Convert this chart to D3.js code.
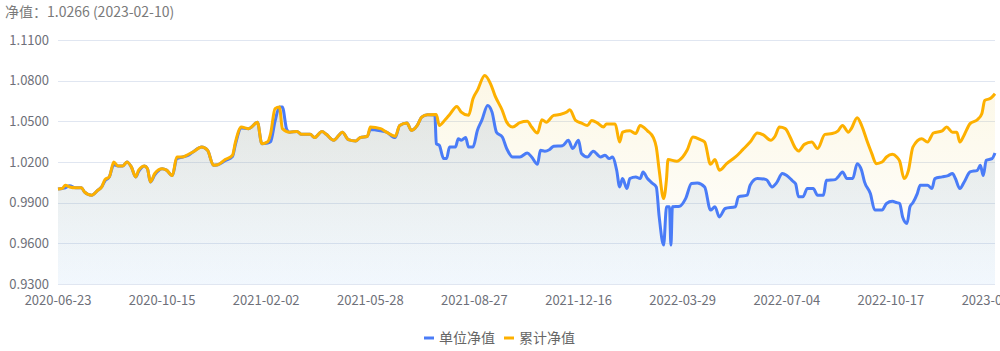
<!DOCTYPE html>
<html>
<head>
<meta charset="utf-8">
<script src="https://cdn.jsdelivr.net/npm/d3@7"></script>
<style>
  body { margin: 0; background: #fff; }
  svg text { font-family: "Noto Sans CJK SC", "Open Sans", sans-serif; }
</style>
</head>
<body>
<div id="visual"></div>
<script>
// tick labels on the category axis (every 71 trading days)
const tickLabels = ["2020-06-23", "2020-10-15", "2021-02-02", "2021-05-28", "2021-08-27",
  "2021-12-16", "2022-03-29", "2022-07-04", "2022-10-17", "2023-02-10"];
const totalDays = 639;
const yTicks = [0.93, 0.96, 0.99, 1.02, 1.05, 1.08, 1.11];

// 累计净值 (trading-day index, value)
const accDays = [0, 3, 5, 8, 12, 16, 18, 23, 27, 30, 32, 35, 38, 41, 44, 47, 50, 53, 55, 59, 61, 63, 66, 71, 74, 78,
  81, 85, 89, 92, 98, 102, 106, 109, 114, 119, 121, 125, 130, 132, 136, 139, 143, 145, 148, 151, 153, 158, 163, 166,
  172, 175, 180, 183, 188, 194, 198, 203, 206, 211, 213, 220, 224, 230, 233, 238, 241, 245, 248, 252, 258, 260, 264,
  267, 272, 275, 280, 283, 286, 291, 295, 298, 303, 306, 310, 315, 320, 323, 327, 330, 333, 338, 342, 347, 349, 353,
  357, 361, 364, 368, 372, 374, 380, 383, 385, 390, 394, 397, 402, 406, 408, 410, 413, 415, 416, 422, 426, 429, 433,
  438, 441, 445, 448, 451, 456, 462, 467, 472, 477, 481, 486, 489, 492, 496, 499, 503, 505, 509, 514, 518, 523, 528,
  532, 535, 539, 541, 545, 548, 552, 555, 558, 562, 565, 569, 572, 574, 577, 580, 583, 589, 593, 597, 603, 606, 610,
  613, 615, 618, 622, 627, 630, 632, 636, 639];
const accNav = [1.0000, 1.0005, 1.0029, 1.0016, 1.0010, 1.0010, 0.9980, 0.9955, 0.9990, 1.0020, 1.0070, 1.0090, 1.0200,
  1.0170, 1.0170, 1.0200, 1.0164, 1.0090, 1.0140, 1.0170, 1.0150, 1.0053, 1.0115, 1.0150, 1.0140, 1.0100,
  1.0237, 1.0237, 1.0257, 1.0274, 1.0310, 1.0286, 1.0176, 1.0180, 1.0218, 1.0250, 1.0347, 1.0458, 1.0446, 1.0458,
  1.0494, 1.0335, 1.0350, 1.0410, 1.0593, 1.0605, 1.0446, 1.0420, 1.0425, 1.0404,
  1.0404, 1.0380, 1.0425, 1.0404, 1.0360, 1.0420, 1.0365, 1.0355, 1.0380, 1.0390, 1.0458, 1.0446, 1.0420, 1.0390,
  1.0470, 1.0487, 1.0433, 1.0470, 1.0531, 1.0549, 1.0550, 1.0470, 1.0512,
  1.0549, 1.0610, 1.0568, 1.0544, 1.0667, 1.0728, 1.0838, 1.0777, 1.0690, 1.0580, 1.0494, 1.0458, 1.0490, 1.0500,
  1.0458, 1.0414, 1.0512, 1.0494, 1.0544, 1.0550, 1.0568, 1.0586, 1.0507,
  1.0487, 1.0470, 1.0507, 1.0487, 1.0458, 1.0480, 1.0480, 1.0347, 1.0420, 1.0430, 1.0410, 1.0470, 1.0430, 1.0380,
  1.0310, 1.0139, 0.9930, 1.0078, 1.0218, 1.0206, 1.0237, 1.0286, 1.0384,
  1.0365, 1.0347, 1.0183, 1.0218, 1.0139, 1.0188, 1.0237, 1.0291, 1.0347, 1.0414, 1.0400, 1.0360, 1.0390, 1.0458,
  1.0446, 1.0390, 1.0300, 1.0281, 1.0330, 1.0347, 1.0300, 1.0404, 1.0410,
  1.0430, 1.0470, 1.0420, 1.0446, 1.0527, 1.0470, 1.0347, 1.0262, 1.0188, 1.0200, 1.0237, 1.0257, 1.0237, 1.0206,
  1.0078, 1.0139, 1.0310, 1.0372, 1.0347, 1.0414, 1.0430, 1.0458, 1.0420,
  1.0420, 1.0347, 1.0400, 1.0483, 1.0512, 1.0556, 1.0654, 1.0670, 1.0704];

// 单位净值 (trading-day index, value)
const unitDays = [0, 3, 5, 8, 12, 16, 18, 23, 27, 30, 32, 35, 38, 41, 44, 47, 50, 53, 55, 59, 61, 63, 66, 71, 74, 78,
  81, 85, 89, 92, 98, 102, 106, 109, 114, 119, 121, 125, 130, 132, 136, 139, 143, 145, 148, 151, 153, 156, 158, 163,
  166, 172, 175, 180, 183, 188, 194, 198, 203, 206, 211, 213, 220, 224, 230, 233, 238, 241, 245, 248, 252, 257, 258,
  260, 263, 265, 267, 271, 273, 275, 278, 280, 283, 286, 289, 293, 296, 299, 303, 306, 310, 315, 320, 323, 327, 329,
  332, 335, 338, 344, 348, 351, 355, 357, 361, 365, 370, 373, 376, 378, 381, 383, 385, 388, 390, 394, 397, 399, 402,
  405, 408, 410, 413, 415, 417, 418, 419, 424, 428, 432, 436, 441, 445, 448, 451, 455, 462, 464, 470, 472, 477, 483,
  487, 490, 494, 497, 501, 503, 505, 508, 511, 515, 518, 522, 524, 530, 532, 535, 538, 542, 545, 548, 550, 554, 557,
  562, 565, 569, 572, 574, 576, 579, 581, 583, 586, 588, 593, 596, 598, 603, 607, 610, 612, 615, 618, 622, 627, 629,
  631, 633, 637, 639];
const unitNav = [1.0000, 1.0005, 1.0010, 1.0025, 1.0010, 1.0010, 0.9980, 0.9955, 0.9990, 1.0020, 1.0060, 1.0090, 1.0180,
  1.0170, 1.0170, 1.0200, 1.0164, 1.0090, 1.0130, 1.0170, 1.0150, 1.0053, 1.0105, 1.0150, 1.0140, 1.0100,
  1.0225, 1.0237, 1.0250, 1.0274, 1.0310, 1.0286, 1.0176, 1.0180, 1.0210, 1.0240, 1.0330, 1.0450, 1.0446, 1.0458,
  1.0494, 1.0335, 1.0340, 1.0350, 1.0500, 1.0605, 1.0605, 1.0440, 1.0420, 1.0425,
  1.0404, 1.0404, 1.0380, 1.0425, 1.0404, 1.0360, 1.0420, 1.0365, 1.0355, 1.0380, 1.0390, 1.0440, 1.0430, 1.0420,
  1.0380, 1.0470, 1.0487, 1.0433, 1.0470, 1.0531, 1.0549, 1.0546, 1.0335,
  1.0323, 1.0225, 1.0225, 1.0310, 1.0310, 1.0372, 1.0360, 1.0380, 1.0310, 1.0310, 1.0433, 1.0507, 1.0617, 1.0568,
  1.0420, 1.0384, 1.0299, 1.0237, 1.0237, 1.0266, 1.0237, 1.0183, 1.0286,
  1.0280, 1.0290, 1.0316, 1.0320, 1.0360, 1.0300, 1.0360, 1.0262, 1.0237, 1.0280, 1.0237, 1.0250, 1.0225, 1.0237,
  1.0139, 1.0016, 1.0078, 1.0004, 1.0078, 1.0090, 1.0078, 1.0127, 1.0078,
  1.0046, 1.0016, 0.9795, 0.9587, 0.9870, 0.9870, 0.9587, 0.9870, 0.9874, 0.9930, 1.0041, 1.0046, 1.0016, 0.9845,
  0.9870, 0.9795, 0.9857, 0.9870, 0.9943, 0.9955, 1.0029, 1.0078, 1.0070,
  1.0016, 1.0046, 1.0115, 1.0100, 1.0060, 1.0040, 0.9943, 0.9943, 1.0004, 1.0004, 0.9955, 0.9955, 1.0065, 1.0070,
  1.0090, 1.0127, 1.0078, 1.0078, 1.0188, 1.0139, 1.0053, 0.9967, 0.9845,
  0.9845, 0.9894, 0.9910, 0.9900, 0.9894, 0.9795, 0.9747, 0.9870, 0.9900, 0.9967, 1.0029, 1.0029, 1.0004, 1.0078,
  1.0090, 1.0100, 1.0115, 1.0078, 1.0004, 1.0053, 1.0127, 1.0139, 1.0176,
  1.0100, 1.0213, 1.0225, 1.0266];

const latestValue = unitNav[unitNav.length - 1];
const latestDate = tickLabels[tickLabels.length - 1];

const width = 1000, height = 351;
const margin = { top: 40, right: 5, bottom: 67, left: 58 };

const svg = d3.select("#visual")
  .append("svg")
  .attr("width", width)
  .attr("height", height);

const x = d3.scaleLinear()
  .domain([0, totalDays])
  .range([margin.left, width - margin.right]);

const y = d3.scaleLinear()
  .domain([0.93, 1.11])
  .range([height - margin.bottom, margin.top]);

// gradients for the two areas
const defs = svg.append("defs");
const gradAcc = defs.append("linearGradient")
  .attr("id", "gradAcc").attr("x1", 0).attr("y1", 0).attr("x2", 0).attr("y2", 1);
gradAcc.append("stop").attr("offset", "0%").attr("stop-color", "rgb(235,205,90)").attr("stop-opacity", 0.15);
gradAcc.append("stop").attr("offset", "100%").attr("stop-color", "rgb(235,205,90)").attr("stop-opacity", 0.0);

const gradUnit = defs.append("linearGradient")
  .attr("id", "gradUnit").attr("x1", 0).attr("y1", 0).attr("x2", 0).attr("y2", 1);
gradUnit.append("stop").attr("offset", "0%").attr("stop-color", "rgb(95,130,185)").attr("stop-opacity", 0.16);
gradUnit.append("stop").attr("offset", "100%").attr("stop-color", "rgb(120,180,240)").attr("stop-opacity", 0.1);

// grid lines + y labels
svg.append("g")
  .selectAll("line")
  .data(yTicks)
  .join("line")
  .attr("x1", margin.left)
  .attr("x2", width - margin.right)
  .attr("y1", d => Math.round(y(d)) + 0.5)
  .attr("y2", d => Math.round(y(d)) + 0.5)
  .attr("stroke", "#e0e6f1")
  .attr("stroke-width", 1);

svg.append("g")
  .selectAll("text")
  .data(yTicks)
  .join("text")
  .attr("x", margin.left - 9)
  .attr("y", d => y(d))
  .attr("dy", "0.35em")
  .attr("text-anchor", "end")
  .attr("fill", "#6e7079")
  .style("font-size", "13px")
  .text(d => d.toFixed(4));

// x labels
const tickStep = totalDays / (tickLabels.length - 1);
svg.append("g")
  .selectAll("text")
  .data(tickLabels)
  .join("text")
  .attr("x", (d, i) => x(i * tickStep))
  .attr("y", height - margin.bottom + 16)
  .attr("dy", "0.35em")
  .attr("text-anchor", "middle")
  .attr("fill", "#6e7079")
  .style("font-size", "13px")
  .text(d => d);

const accData = accDays.map((d, i) => ({ day: d, value: accNav[i] }));
const unitData = unitDays.map((d, i) => ({ day: d, value: unitNav[i] }));

const area = d3.area()
  .x(d => x(d.day))
  .y0(y(0.93))
  .y1(d => y(d.value))
  .curve(d3.curveMonotoneX);

const line = d3.line()
  .x(d => x(d.day))
  .y(d => y(d.value))
  .curve(d3.curveMonotoneX);

svg.append("path")
  .datum(accData)
  .attr("fill", "url(#gradAcc)")
  .attr("d", area);

svg.append("path")
  .datum(unitData)
  .attr("fill", "url(#gradUnit)")
  .attr("d", area);

svg.append("path")
  .datum(unitData)
  .attr("fill", "none")
  .attr("stroke", "#4a7cf7")
  .attr("stroke-width", 3)
  .attr("stroke-linejoin", "round")
  .attr("d", line);

svg.append("path")
  .datum(accData)
  .attr("fill", "none")
  .attr("stroke", "#fdb000")
  .attr("stroke-width", 3)
  .attr("stroke-linejoin", "round")
  .attr("d", line);

// title
svg.append("text")
  .attr("x", 5)
  .attr("y", 12)
  .attr("dy", "0.35em")
  .attr("fill", "#7a7a7a")
  .style("font-size", "14px")
  .text("净值：" + latestValue.toFixed(4) + " (" + latestDate + ")");

// legend
const legendItems = [
  { name: "单位净值", color: "#4a7cf7", x: 424 },
  { name: "累计净值", color: "#fdb000", x: 504 }
];
const legend = svg.append("g");
legendItems.forEach(item => {
  legend.append("line")
    .attr("x1", item.x).attr("x2", item.x + 10)
    .attr("y1", 338).attr("y2", 338)
    .attr("stroke", item.color)
    .attr("stroke-width", 3);
  legend.append("text")
    .attr("x", item.x + 15)
    .attr("y", 338)
    .attr("dy", "0.35em")
    .attr("fill", "#666")
    .style("font-size", "14px")
    .text(item.name);
});
</script>
</body>
</html>
